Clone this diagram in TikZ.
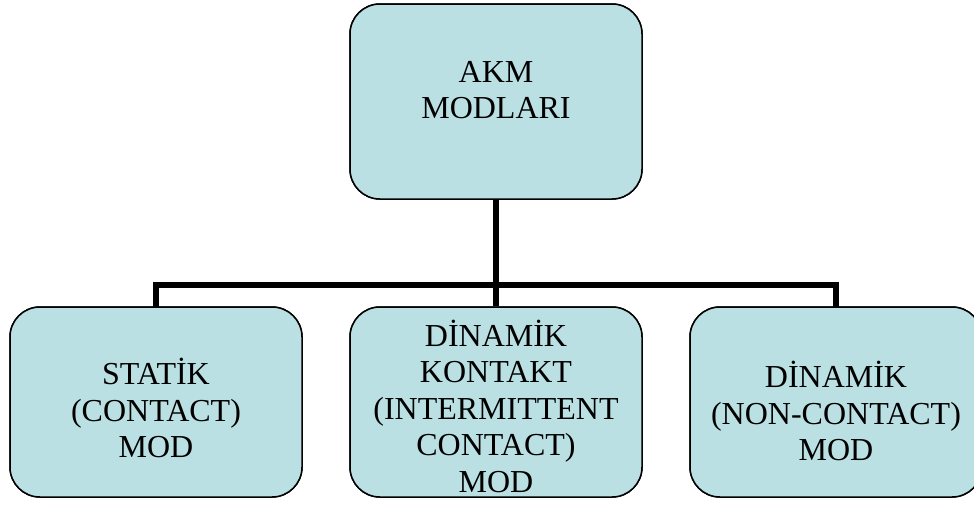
\documentclass[tikz,border=0pt]{standalone}
\usepackage{fontspec}
\setmainfont{Liberation Serif}
\definecolor{boxfill}{RGB}{187,224,227}
\begin{document}
\begin{tikzpicture}[x=1pt,y=-1pt,
  modbox/.style={draw=black, line width=1.5pt, fill=boxfill, rounded corners=30pt,
    minimum width=292pt, inner sep=0pt, anchor=center},
  modtext/.style={align=center, inner sep=0pt, anchor=center,
    font=\fontsize{32}{36.5}\selectfont},
  conn/.style={line width=6pt, line join=miter, line cap=rect}]
\useasboundingbox (0,0) rectangle (974,509);
% boxes
\node[modbox, minimum height=195pt] (top)   at (496,101.5) {};
\node[modbox, minimum height=190pt] (left)  at (156,402) {};
\node[modbox, minimum height=190pt] (mid)   at (496,402) {};
\node[modbox, minimum height=190pt] (right) at (836,402) {};
% connectors
\coordinate (bus) at (496,285);
\draw[line width=6pt] (top.south) -- (mid.north);
\draw[conn] (left.north) -- (left.north |- bus) -- (right.north |- bus) -- (right.north);
% redraw boxes over connector ends
\node[modbox, minimum height=195pt] at (496,101.5) {};
\node[modbox, minimum height=190pt] at (156,402) {};
\node[modbox, minimum height=190pt] at (496,402) {};
\node[modbox, minimum height=190pt] at (836,402) {};
% texts
\node[modtext] (ttop)   at (496,90)    {AKM\\MODLARI};
\node[modtext] (tleft)  at (156,408) {STATİK\\(CONTACT)\\MOD};
\node[modtext] (tmid)   at (496,406) {DİNAMİK\\KONTAKT\\(INTERMITTENT\\CONTACT)\\MOD};
\node[modtext] (tright) at (836,411)   {DİNAMİK\\(NON-CONTACT)\\MOD};
\end{tikzpicture}
\end{document}
